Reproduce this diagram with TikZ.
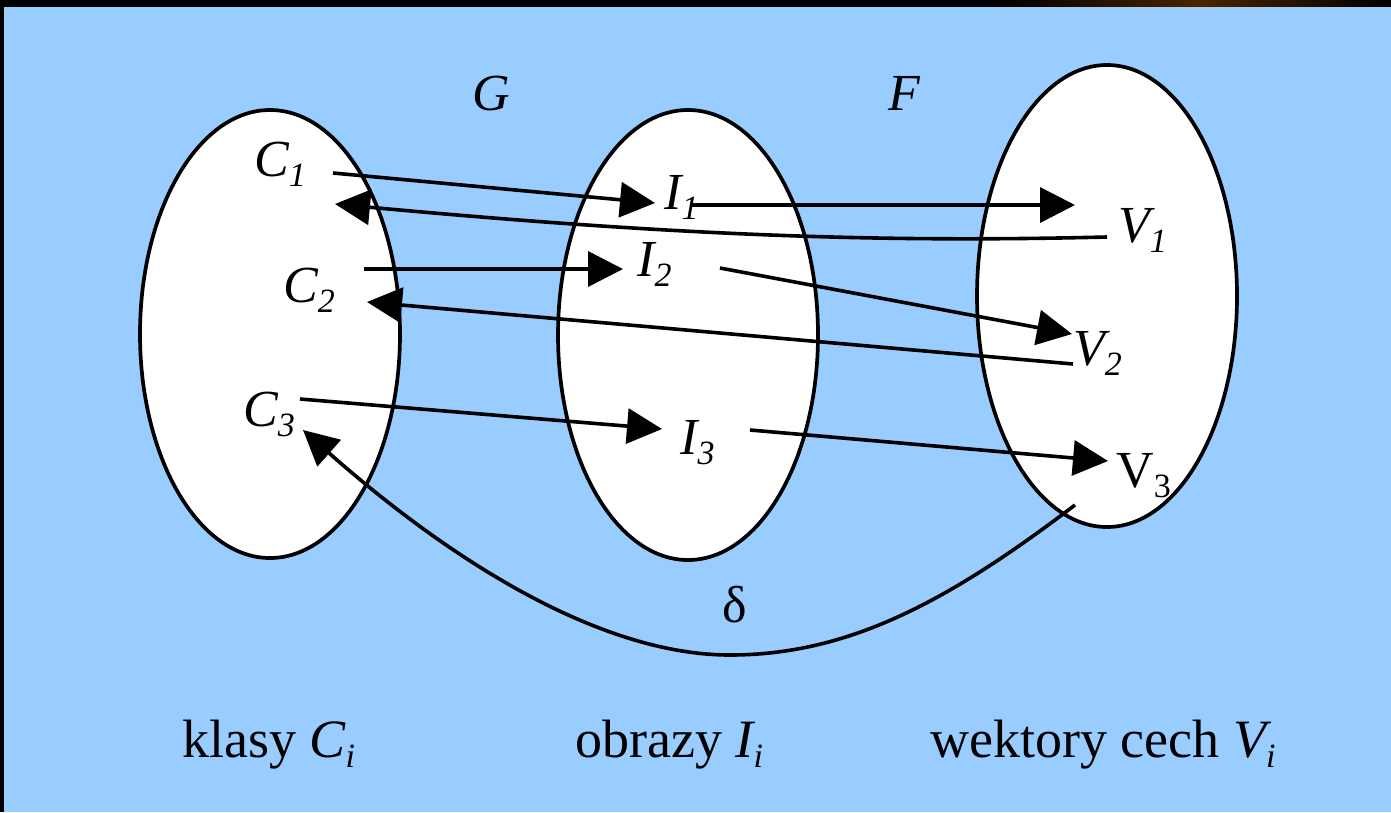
\documentclass[tikz,border=0pt]{standalone}
\usepackage{fontspec}
\setmainfont{Liberation Serif}
\usetikzlibrary{arrows.meta,shapes.geometric}
\definecolor{bgblue}{HTML}{99CCFF}
\definecolor{darkbrown}{HTML}{4A2400}
\newcommand\sbs[1]{\raisebox{-0.2em}{\fontsize{34}{34}\selectfont #1}}
\begin{document}
\begin{tikzpicture}[x=1pt,y=-1pt,
  lbl/.style={font=\fontsize{52}{60}\selectfont\itshape, inner sep=0pt, anchor=base west},
  btm/.style={font=\fontsize{54}{62}\selectfont, inner sep=0pt, anchor=base west},
  set/.style={ellipse, draw=black, fill=white, line width=3.7pt, inner sep=0pt},
  arr/.style={line width=3.6pt, -{Triangle[length=35pt,width=35pt]}}]
\useasboundingbox (0,0) rectangle (1391,812);
\fill[black] (0,0) rectangle (1391,812);
\shade[left color=black, right color=darkbrown] (1000,0) rectangle (1200,7);
\shade[left color=darkbrown, right color=black] (1200,0) rectangle (1391,7);
\fill[bgblue] (4,7) rectangle (1391,812);
% sets
\node[set, minimum width=260pt, minimum height=448pt] (setC) at (270,334) {};
\node[set, minimum width=260pt, minimum height=450pt] (setI) at (688,335) {};
\node[set, minimum width=260pt, minimum height=462pt] (setV) at (1107,296) {};
% labels
\node[lbl] (G) at (472,110) {G};
\node[lbl] (F) at (888,110) {F};
\node[lbl] (C1) at (254,176) {C\sbs{1}};
\node[lbl] (C2) at (283,302) {C\sbs{2}};
\node[lbl] (C3) at (243,426) {C\sbs{3}};
\node[lbl] (I1) at (664,209) {I\sbs{1}};
\node[lbl] (I2) at (637,276) {I\sbs{2}};
\node[lbl] (I3) at (680,454) {I\sbs{3}};
\node[lbl] (V1) at (1118,242) {V\sbs{1}};
\node[lbl] (V2) at (1073,365) {V\sbs{2}};
\node[lbl, font=\fontsize{52}{60}\selectfont] (V3) at (1116,487) {V\sbs{3}};
\node[lbl, font=\fontsize{52}{60}\selectfont] (d) at (722,622) {δ};
\node[btm] (lc) at (182,757) {klasy \textit{C\sbs{i}}};
\node[btm] (li) at (575,757) {obrazy \textit{I\sbs{i}}};
\node[btm] (lv) at (930,757) {wektory cech \textit{V\sbs{i}}};
% connector end points
\coordinate (c1s) at (333,173);
\coordinate (i1t) at (655,203);
\coordinate (v1s) at (1107,237);
\coordinate (c1t) at (335,204);
\coordinate (c2s) at (364,269);
\coordinate (i2t) at (623,269);
\coordinate (v2s) at (1073,364);
\coordinate (c2t) at (367,302);
\coordinate (i1s) at (692,205);
\coordinate (v1t) at (1075,205);
\coordinate (i2s) at (720,268);
\coordinate (v2t) at (1072,334);
\coordinate (c3s) at (300,399);
\coordinate (i3t) at (662,429);
\coordinate (i3s) at (750,430);
\coordinate (v3t) at (1108,461);
\coordinate (v3s) at (1075,505);
\coordinate (low) at (730,655);
\coordinate (c3t) at (303,430);
% connectors
\draw[arr] (c1s) -- (i1t);
\draw[arr] (v1s) .. controls (900,242) and (700,238) .. (c1t);
\draw[arr] (c2s) -- (i2t);
\draw[arr] (v2s) -- (c2t);
\draw[arr] (i1s) -- (v1t);
\draw[arr] (i2s) -- (v2t);
\draw[arr] (c3s) -- (i3t);
\draw[arr] (i3s) -- (v3t);
\draw[arr] (v3s) .. controls (950,600) and (850,655) .. (low) .. controls (600,655) and (450,560) .. (c3t);
\end{tikzpicture}
\end{document}
